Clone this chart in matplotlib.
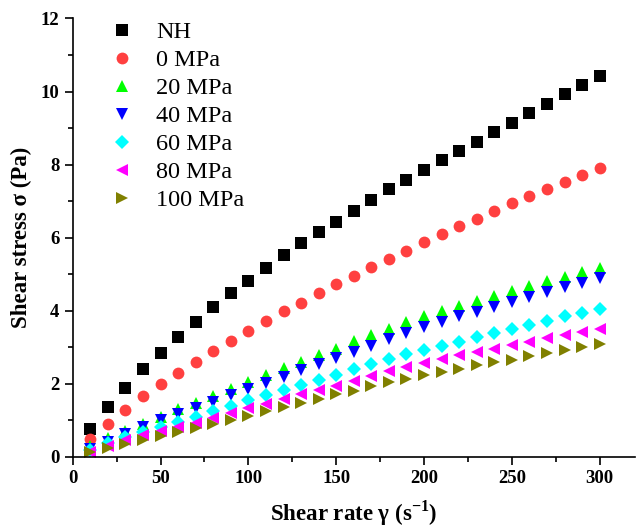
import numpy as np
import matplotlib
matplotlib.use("Agg")
import matplotlib.pyplot as plt

plt.rcParams["font.family"] = ["Liberation Serif", "DejaVu Serif"]
plt.rcParams["mathtext.fontset"] = "custom"
plt.rcParams["mathtext.rm"] = "Liberation Serif"
plt.rcParams["mathtext.bf"] = "Liberation Serif:bold"

shear_rate = np.arange(10, 301, 10)

nh = [0.76, 1.36, 1.89, 2.39, 2.84, 3.28, 3.70, 4.10, 4.48, 4.81,
      5.17, 5.51, 5.84, 6.15, 6.44, 6.74, 7.03, 7.32, 7.59, 7.86,
      8.12, 8.38, 8.63, 8.89, 9.14, 9.40, 9.66, 9.93, 10.18, 10.42]
p0 = [0.49, 0.90, 1.28, 1.65, 1.98, 2.30, 2.60, 2.89, 3.17, 3.45,
      3.72, 3.98, 4.22, 4.48, 4.72, 4.96, 5.19, 5.41, 5.64, 5.87,
      6.10, 6.31, 6.52, 6.73, 6.95, 7.14, 7.33, 7.53, 7.72, 7.90]
p20 = [0.30, 0.52, 0.70, 0.90, 1.10, 1.30, 1.48, 1.67, 1.86, 2.05,
       2.24, 2.42, 2.60, 2.78, 2.96, 3.16, 3.34, 3.51, 3.68, 3.84,
       3.99, 4.13, 4.27, 4.41, 4.55, 4.68, 4.80, 4.93, 5.05, 5.16]
p40 = [0.21, 0.41, 0.61, 0.81, 1.00, 1.17, 1.34, 1.50, 1.68, 1.85,
       2.02, 2.19, 2.37, 2.53, 2.71, 2.88, 3.04, 3.22, 3.38, 3.54,
       3.69, 3.84, 3.97, 4.11, 4.25, 4.38, 4.50, 4.64, 4.77, 4.89]
p60 = [0.18, 0.37, 0.53, 0.68, 0.82, 0.96, 1.10, 1.24, 1.39, 1.55,
       1.68, 1.82, 1.96, 2.09, 2.23, 2.39, 2.53, 2.68, 2.81, 2.92,
       3.04, 3.15, 3.27, 3.38, 3.49, 3.61, 3.73, 3.85, 3.94, 4.05]
p80 = [0.12, 0.30, 0.45, 0.59, 0.70, 0.81, 0.93, 1.06, 1.19, 1.33,
       1.45, 1.58, 1.71, 1.83, 1.95, 2.08, 2.22, 2.34, 2.46, 2.57,
       2.67, 2.78, 2.88, 2.96, 3.05, 3.15, 3.24, 3.33, 3.42, 3.49]
p100 = [0.12, 0.23, 0.34, 0.46, 0.57, 0.67, 0.79, 0.90, 1.01, 1.12,
        1.24, 1.35, 1.47, 1.59, 1.71, 1.81, 1.93, 2.04, 2.14, 2.23,
        2.32, 2.41, 2.50, 2.58, 2.66, 2.75, 2.83, 2.92, 3.00, 3.08]

labels = ["NH", "0 MPa", "20 MPa", "40 MPa", "60 MPa", "80 MPa", "100 MPa"]
series = [nh, p0, p20, p40, p60, p80, p100]
colors = ["#000000", "#ff4040", "#00ff00", "#0000ff", "#00ffff", "#ff00ff", "#808000"]
markers = ["s", "o", "^", "v", "D", "<", ">"]
sizes = [8, 8.5, 9, 9, 7.5, 9, 9]

fig = plt.figure(figsize=(6.38, 5.28), dpi=100)
ax = fig.add_axes([0.114, 0.135, 0.881, 0.83])

for lab, ys, c, m, s in zip(labels, series, colors, markers, sizes):
    ax.plot(shear_rate, ys, linestyle="none", marker=m, color=c,
            markersize=s, markeredgewidth=0, label=lab)

ax.set_xlim(0, 320)
ax.set_ylim(0, 12)
ax.set_xticks(np.arange(0, 301, 50))
ax.set_xticks(np.arange(25, 321, 50), minor=True)
ax.set_yticks(np.arange(0, 13, 2))
ax.set_yticks(np.arange(1, 12, 2), minor=True)
ax.spines["top"].set_visible(False)
ax.spines["right"].set_visible(False)
for sp in ("left", "bottom"):
    ax.spines[sp].set_linewidth(1.2)
ax.tick_params(which="major", direction="out", length=6, width=1.2, labelsize=13.5)
ax.tick_params(which="minor", direction="out", length=3.5, width=1.2)
for t in ax.get_xticklabels() + ax.get_yticklabels():
    t.set_fontweight("bold")

ax.set_xlabel(r"Shear rate γ (s$^{\mathbf{-1}}$)", fontsize=16.5, fontweight="bold", labelpad=8)
ax.set_ylabel("Shear stress σ (Pa)", fontsize=16.5, fontweight="bold", labelpad=6)

ax.legend(loc="upper left", bbox_to_anchor=(0.042, 1.016), frameon=False,
          fontsize=17.5, labelspacing=0.245, handletextpad=0.75, borderaxespad=0.0,
          handlelength=1.3)

fig.savefig("out.png", dpi=100)
